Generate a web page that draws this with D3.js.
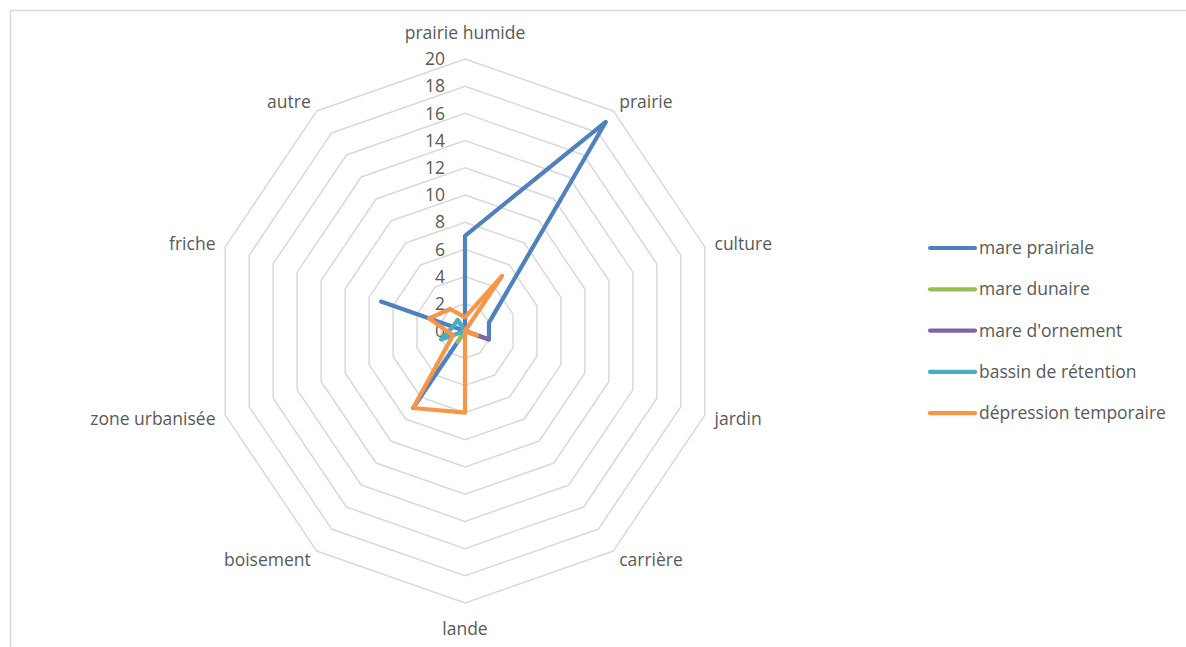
<!DOCTYPE html>
<html><head><meta charset="utf-8">
<script src="https://cdn.jsdelivr.net/npm/d3@7"></script>
<style>html,body{margin:0;padding:0;background:#fff;}svg{display:block;font-family:"Open Sans",Lato,sans-serif;}</style>
</head><body>
<svg id="c" width="1186" height="647"></svg>
<script>
const categories = ["prairie humide","prairie","culture","jardin","carrière","lande","boisement","zone urbanisée","friche","autre"];
const seriesNames = ["mare prairiale","mare dunaire","mare d'ornement","bassin de rétention","dépression temporaire"];
const marePrairiale = [7,19,2,2,0,0,7,0,7,0];
const mareDunaire = [0,0,0,0,0,0,1,0,0,1];
const mareOrnement = [0,0,0,2,0,0,0,0,0,0];
const bassinRetention = [0,0,0,0,0,0,0,2,1,1];
const depressionTemporaire = [1,5,0,1,0,6,7,1,3,2];
const tickValues = [0,2,4,6,8,10,12,14,16,18,20];
const colors = ["#4F81BD","#9BBB59","#8064A2","#4BACC6","#F79646"];

const allSeries = [marePrairiale, mareDunaire, mareOrnement, bassinRetention, depressionTemporaire];
const svg = d3.select("#c");
const cx = 465, cy = 331, R = 272, sx = 0.927;
const r = d3.scaleLinear().domain([0,20]).range([0,R]);
const angle = i => i*2*Math.PI/categories.length;
const px = (i,v) => cx + Math.sin(angle(i))*r(v)*sx;
const py = (i,v) => cy - Math.cos(angle(i))*r(v);
const FS = 17.5, TXT = "#595959";

// chart border
svg.append("rect").attr("x",10.5).attr("y",10.5).attr("width",1300).attr("height",800)
  .attr("fill","none").attr("stroke","#d9d9d9").attr("stroke-width",1.5);

// grid rings
const g = svg.append("g");
tickValues.filter(t=>t>0).forEach(t=>{
  const pts = categories.map((c,i)=>[px(i,t),py(i,t)]);
  g.append("path").attr("d", d3.line().curve(d3.curveLinearClosed)(pts))
    .attr("fill","none").attr("stroke","#d9d9d9").attr("stroke-width",1.5);
});

// tick labels
svg.append("g").selectAll("text").data(tickValues).join("text")
  .attr("x",445).attr("y",d=>cy - r(d)).attr("dy","0.35em")
  .attr("text-anchor","end").attr("font-size",FS).attr("fill",TXT).text(d=>d);

// category labels
const LR = 283;
categories.forEach((c,i)=>{
  const a = angle(i);
  const s = Math.sin(a), co = Math.cos(a);
  let x = cx + s*LR*sx, y = cy - co*LR;
  let anchor = Math.abs(s)<1e-6 ? "middle" : (s>0 ? "start":"end");
  if (Math.abs(s)<1e-6) y += (co>0 ? -15 : 15);
  svg.append("text").attr("x",x).attr("y",y).attr("dy","0.35em")
    .attr("text-anchor",anchor).attr("font-size",FS).attr("fill",TXT).text(c);
});

// series
const line = d3.line().curve(d3.curveLinearClosed);
allSeries.forEach((s,k)=>{
  const pts = s.map((v,i)=>[px(i,v),py(i,v)]);
  svg.append("path").attr("d",line(pts)).attr("fill","none")
    .attr("stroke",colors[k]).attr("stroke-width",4.2).attr("stroke-linejoin","round").attr("stroke-linecap","round");
});

// legend
const lg = svg.append("g");
seriesNames.forEach((n,k)=>{
  const y = 248 + k*41.3;
  lg.append("line").attr("x1",930).attr("x2",975).attr("y1",y).attr("y2",y)
    .attr("stroke",colors[k]).attr("stroke-width",4.2).attr("stroke-linecap","round");
  lg.append("text").attr("x",979).attr("y",y).attr("dy","0.35em").attr("font-size",FS)
    .attr("fill",TXT).text(n);
});
</script>
</body></html>
